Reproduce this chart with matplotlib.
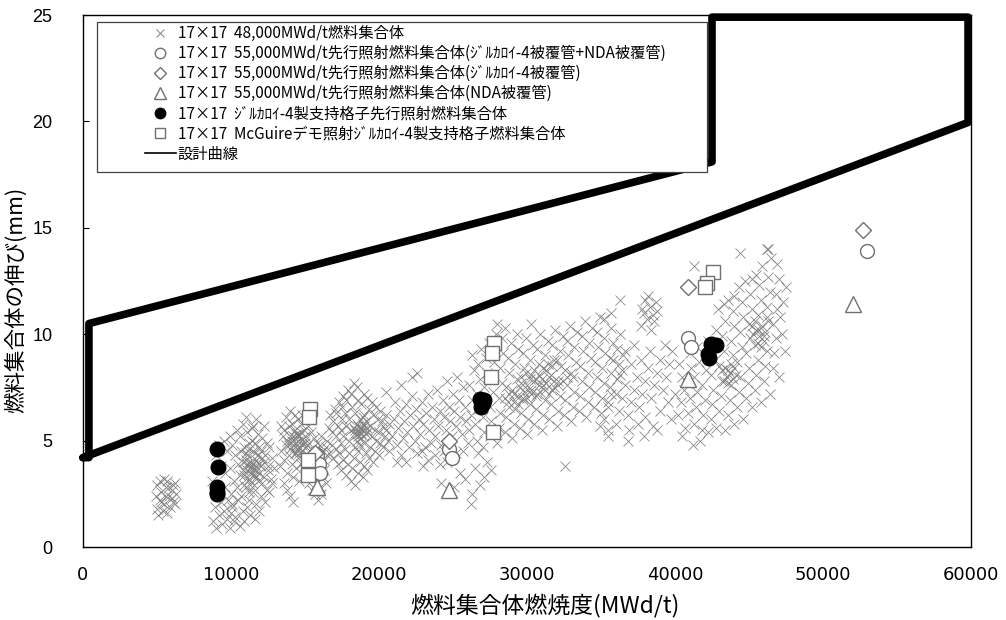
import matplotlib
matplotlib.use("Agg")
import matplotlib.pyplot as plt
import numpy as np
from matplotlib.lines import Line2D
from matplotlib.patches import Rectangle

JP = ['Noto Sans CJK JP', 'DejaVu Sans']
plt.rcParams['font.family'] = JP

# ---------------- data ----------------
# 48,000 MWd/t assemblies: "x(100 MWd/t),y(0.1 mm)" pairs
cloud_a = "50,18 52,22 53,26 55,20 56,28 57,31 58,24 60,27 61,21 62,30 50,29 51,15 54,17 59,19 63,25 55,32 52,31 57,16 60,23 61,29 49,24 53,21 56,24 58,28 62,20"
cloud_b = ("88,12 90,9 92,15 94,11 89,19 93,21 95,17 91,25 87,31 96,28 98,22 97,13 99,9 100,16 102,12 101,20 90,43 92,48 95,50 97,45 99,52 93,38 96,35 "
           "101,19 100,25 102,31 99,37 103,43 101,48 104,55 103,14 105,22 104,28 106,34 105,39 107,45 106,52 108,58 106,10 108,17 107,24 109,29 108,36 "
           "110,41 109,47 111,54 110,61 109,12 111,19 112,26 110,32 113,37 111,43 112,49 114,56 113,15 112,22 114,28 115,34 113,39 116,44 114,50 115,57 "
           "116,13 117,20 115,26 118,31 116,36 117,41 119,47 118,53 117,60 119,17 120,24 121,30 119,35 122,40 120,45 121,51 122,57 123,21 124,27 122,33 "
           "125,38 123,43 124,49 126,26 127,32 125,36 128,42 126,47 128,30 129,37 111,36 113,40 114,37 116,34 112,32 110,44 115,45 117,38 108,40 119,39 "
           "110,28 114,30 112,46 116,49 118,43 120,38 113,35 115,39 111,39 117,33 109,34 121,42")
cloud_c = ("133,38 134,45 135,52 134,57 136,41 137,48 136,55 137,61 138,35 139,43 138,50 139,57 140,64 141,39 140,46 142,52 141,58 143,62 142,33 143,44 "
           "144,49 143,55 145,60 144,37 145,42 146,47 145,53 147,58 146,31 147,39 148,45 147,50 149,55 148,62 150,34 149,41 151,47 150,52 152,57 151,36 "
           "152,43 153,49 154,54 155,40 154,46 156,51 157,45 156,38 158,42 158,49 159,36 160,43 161,39 160,48 162,45 161,52 163,41 164,47 165,43 153,30 "
           "155,27 157,25 159,22 156,33 158,30 160,28 162,33 161,25 163,36 164,30 142,48 143,51 144,53 145,50 146,52 141,50 147,54 148,48 149,50 150,49 "
           "145,46 143,47 140,52 139,48 144,44 146,44 138,27 140,24 142,21 136,30")
cloud_d = ("165,50 166,56 167,62 166,44 168,48 168,54 169,59 170,65 169,42 171,46 171,52 172,57 171,63 173,68 172,39 173,44 174,49 174,55 175,60 175,66 "
           "176,71 174,36 176,41 177,46 176,52 178,57 177,63 178,69 179,74 178,34 179,39 180,44 180,50 181,55 180,60 182,66 181,72 183,77 181,31 182,37 "
           "183,42 184,47 183,53 185,58 184,63 186,69 185,75 184,29 186,35 187,40 186,45 188,51 187,56 189,61 188,67 190,72 189,33 190,38 191,44 190,49 "
           "192,54 191,59 193,65 192,70 192,36 193,42 194,47 195,52 194,57 196,62 195,68 196,40 197,45 198,50 197,55 199,60 198,66 200,43 201,49 200,54 "
           "202,59 201,64 203,47 204,52 203,57 205,62 206,50 205,55 207,58 184,55 185,53 186,57 187,54 188,56 189,55 190,57 186,52 188,53 185,50 187,48 "
           "189,52 191,53 183,56 192,56 190,62 187,60 189,58")
cloud_e = ("207,45 209,52 210,60 212,48 213,56 211,68 214,64 216,51 215,43 217,59 218,67 219,54 220,47 221,62 222,71 223,57 224,50 225,65 226,44 227,60 "
           "228,53 229,68 230,58 231,47 232,63 233,72 234,55 235,49 236,66 237,60 238,52 239,74 240,57 241,64 242,48 243,69 244,61 245,55 246,78 247,66 "
           "248,59 249,52 250,72 251,64 252,57 253,80 254,69 255,61 256,53 257,75 258,66 259,59 260,49 222,80 226,82 233,41 229,45 238,43 244,45 212,40 "
           "218,40 205,73 215,76 230,38 241,39 252,44 246,40 257,45 242,30 251,28 255,35 258,32 263,25 265,37 268,29 271,33 262,20 267,44 273,40 276,36")
cloud_f = ("261,55 262,62 263,69 261,76 264,83 263,90 266,50 265,58 267,65 266,72 268,79 267,86 269,93 270,47 271,54 270,61 272,68 271,75 273,82 272,89 "
           "274,96 275,52 276,59 275,66 277,73 276,80 278,87 277,94 279,100 280,49 281,56 282,63 281,70 283,77 282,84 284,91 283,98 285,54 286,61 287,68 "
           "286,75 288,82 287,89 289,96 290,51 291,58 292,65 291,72 293,79 292,86 294,93 293,100 295,56 296,63 297,70 296,77 298,84 297,91 299,98 300,53 "
           "301,60 302,67 301,74 303,81 302,88 304,95 303,105 305,58 306,65 307,72 306,79 308,86 307,93 309,100 310,55 311,62 312,69 311,76 313,83 312,90 "
           "314,97 315,60 316,67 317,74 316,81 318,88 317,95 319,102 320,57 321,64 322,71 321,78 323,85 322,92 324,99 325,62 326,69 327,76 326,83 328,90 "
           "327,97 329,104 330,59 331,66 332,73 331,80 333,87 332,94 334,101 335,64 336,71 337,78 336,85 338,92 337,99 339,106 340,61 341,68 342,75 341,82 "
           "343,89 342,96 344,103 345,66 346,73 347,80 346,87 348,94 347,101 349,108 350,63 351,70 352,77 351,84 353,91 352,98 355,68 356,75 357,82 356,89 "
           "358,96 357,103 360,72 361,79 362,86 361,93 363,100 364,83 365,90 "
           "285,70 288,72 290,74 293,71 295,75 298,73 300,76 303,74 305,78 308,76 310,79 313,77 315,80 318,78 288,66 291,68 294,67 297,69 300,70 303,72 "
           "306,71 309,73 312,74 315,72 318,75 321,76 324,78 327,80 330,82 296,80 299,82 302,79 305,83 308,81 311,84 314,86 317,85 320,88 326,38 349,57 "
           "355,55 280,105 285,103")
cloud_g = ("377,104 379,110 381,107 383,113 385,109 387,115 380,116 384,102 386,106 378,112 382,118 388,111 352,60 355,66 357,72 360,58 362,64 364,70 "
           "366,76 368,62 370,68 372,74 374,80 376,66 378,72 380,78 382,84 384,70 386,76 388,82 390,88 392,74 394,80 396,86 398,92 375,58 380,61 385,57 "
           "390,64 395,68 400,72 363,81 370,86 377,88 366,92 372,95 358,88 393,95 397,60 388,55 379,52 369,55 383,92 363,116 357,110 352,107 355,52 368,50")
cloud_h = ("402,62 404,68 406,74 405,80 403,86 407,56 409,63 410,70 408,77 411,84 410,91 413,58 414,66 415,73 413,80 416,87 415,94 418,55 419,62 420,69 "
           "418,76 421,83 420,90 422,97 424,60 425,67 426,74 424,81 427,88 426,95 428,102 430,64 431,71 432,78 430,85 433,92 432,99 434,106 436,62 437,69 "
           "438,76 436,83 439,90 438,97 440,104 439,111 442,66 443,73 444,80 442,87 445,94 444,101 446,108 445,115 448,70 449,77 450,84 448,91 451,98 "
           "450,105 452,112 451,119 454,74 455,81 456,88 454,95 457,102 456,109 458,116 457,123 460,78 461,85 462,92 460,99 463,106 462,113 464,120 "
           "463,127 466,84 467,91 468,98 466,105 469,112 468,119 470,126 469,133 465,136 463,140 459,132 455,128 452,126 471,108 472,100 473,115 474,92 "
           "475,122 447,125 443,122 440,118 436,116 433,114 429,112 453,100 455,102 457,99 459,104 461,101 456,96 458,94 460,97 454,106 452,104 462,108 "
           "435,80 437,82 439,79 434,84 438,86 441,81 433,78 436,77 440,84 432,83 405,52 412,48 417,50 422,54 428,56 434,55 440,58 446,60 452,66 458,68 "
           "464,72 470,80 444,138 462,140 413,132 420,123")
clouds_48k = [cloud_a, cloud_b, cloud_c, cloud_d, cloud_e, cloud_f, cloud_g, cloud_h]

# 55,000 MWd/t lead assemblies (Zr-4 + NDA cladding)
zr_nda_x = [15800, 15950, 16000, 24700, 24900, 40900, 41100, 52950]
zr_nda_y = [4.3, 3.9, 3.5, 4.6, 4.2, 9.8, 9.4, 13.9]
# 55,000 MWd/t (Zr-4 cladding)
zr_x = [15700, 24700, 40850, 52700]
zr_y = [4.4, 5.0, 12.2, 14.9]
# 55,000 MWd/t (NDA cladding)
nda_x = [15800, 24750, 40900, 52000]
nda_y = [2.8, 2.7, 7.9, 11.4]
# Zr-4 grid lead assemblies
grid_x = [9060, 9100, 9080, 9050, 9040, 26850, 27050, 26900, 27100, 42400, 42750, 42200, 42270]
grid_y = [4.6, 3.75, 2.8, 2.6, 2.5, 6.95, 6.75, 6.6, 6.9, 9.55, 9.5, 9.05, 8.9]
# McGuire demo
mcg_x = [15350, 15250, 15200, 15200, 27750, 27650, 27600, 27700, 42550, 42150, 42000]
mcg_y = [6.5, 6.1, 4.1, 3.4, 9.6, 9.1, 8.0, 5.4, 12.9, 12.4, 12.2]
# design curve
design_x = [0, 59800, 59800, 42500, 42500, 400, 400, 0]
design_y = [4.2, 19.95, 24.9, 24.9, 18.1, 10.5, 4.2, 4.2]

labels = ["17×17  48,000MWd/t燃料集合体",
          "17×17  55,000MWd/t先行照射燃料集合体(ｼﾞﾙｶﾛｲ-4被覆管+NDA被覆管)",
          "17×17  55,000MWd/t先行照射燃料集合体(ｼﾞﾙｶﾛｲ-4被覆管)",
          "17×17  55,000MWd/t先行照射燃料集合体(NDA被覆管)",
          "17×17  ｼﾞﾙｶﾛｲ-4製支持格子先行照射燃料集合体",
          "17×17  McGuireデモ照射ｼﾞﾙｶﾛｲ-4製支持格子燃料集合体",
          "設計曲線"]

def parse(s):
    pts = np.array([[float(v) for v in p.split(",")] for p in s.split()])
    return pts[:, 0] * 100.0, pts[:, 1] / 10.0

# ---------------- figure ----------------
fig = plt.figure(figsize=(10.06, 6.2), dpi=100)
ax = fig.add_axes([83/1006, 73/620, 888/1006, 532/620])

gray = '#808080'
for s in clouds_48k:
    x, y = parse(s)
    ax.plot(x, y, linestyle='none', marker='x', color=gray, ms=7.5, mew=0.55, zorder=2)

ax.plot(design_x, design_y, color='black', lw=5.5, solid_joinstyle='round',
        solid_capstyle='round', clip_on=False, zorder=3)

ec = '#707070'
ax.plot(zr_nda_x, zr_nda_y, 'o', ms=10, mfc='white', mec=ec, mew=1.0, ls='none', zorder=4)
ax.plot(zr_x, zr_y, 'D', ms=8, mfc='white', mec=ec, mew=1.0, ls='none', zorder=4)
ax.plot(nda_x, nda_y, '^', ms=11, mfc='white', mec=ec, mew=1.0, ls='none', zorder=4)
ax.plot(grid_x, grid_y, 'o', ms=10.5, mfc='black', mec='black', ls='none', zorder=5)
ax.plot(mcg_x, mcg_y, 's', ms=10, mfc='white', mec=ec, mew=1.0, ls='none', zorder=6)

ax.set_xlim(0, 60000)
ax.set_ylim(0, 25)
ax.set_xticks(np.arange(0, 60001, 10000))
ax.set_yticks(np.arange(0, 26, 5))
ax.set_xticks([10000, 30000, 50000], minor=True)
ax.tick_params(axis='x', which='major', length=0, pad=14, labelsize=13)
ax.tick_params(axis='x', which='minor', direction='in', length=5, width=0.8)
ax.tick_params(axis='y', which='major', direction='in', length=4, width=0.8, pad=22, labelsize=13)
for lab in ax.get_xticklabels():
    lab.set_family(['Liberation Sans Narrow', 'DejaVu Sans'])
for lab in ax.get_yticklabels():
    lab.set_family(['Liberation Sans', 'DejaVu Sans'])
for sp in ax.spines.values():
    sp.set_linewidth(1.0)
    sp.set_color('black')

fig.text(545/1006, 1 - 605/620, "燃料集合体燃焼度(MWd/t)", ha='center', va='center', fontsize=16.5)
fig.text(16/1006, 1 - 300/620, "燃料集合体の伸び(mm)", ha='center', va='center', fontsize=15.5, rotation=90)

# legend
handles = [
    Line2D([], [], ls='none', marker='x', color=gray, ms=6, mew=0.7),
    Line2D([], [], ls='none', marker='o', mfc='white', mec=ec, ms=7.5),
    Line2D([], [], ls='none', marker='D', mfc='white', mec=ec, ms=6),
    Line2D([], [], ls='none', marker='^', mfc='white', mec=ec, ms=8),
    Line2D([], [], ls='none', marker='o', mfc='black', mec='black', ms=7.5),
    Line2D([], [], ls='none', marker='s', mfc='white', mec=ec, ms=7.5),
    Line2D([], [], color='black', lw=1.2),
]
frame = Rectangle((97/1006, 1 - 172/620), (707 - 97)/1006, (172 - 22)/620,
                  transform=fig.transFigure, facecolor='white', edgecolor='#404040',
                  lw=0.9, zorder=7)
fig.add_artist(frame)
leg = fig.legend(handles, labels, loc='upper left', bbox_to_anchor=(145/1006, 1 - 25/620),
                 frameon=False, fontsize=11, handlelength=2.0, handletextpad=0.15,
                 labelspacing=0.2, borderpad=0, borderaxespad=0)
leg.set_zorder(8)

fig.savefig("out.png", dpi=100)
